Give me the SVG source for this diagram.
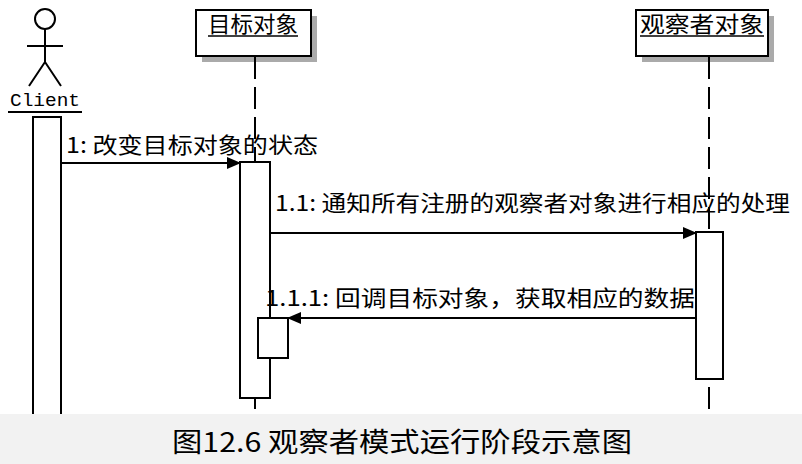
<svg xmlns="http://www.w3.org/2000/svg" width="802" height="464" viewBox="0 0 802 464">
<style>
.ln{stroke:#000;stroke-width:2;fill:none}
.box{fill:#fff;stroke:#000;stroke-width:2}
.sh{fill:#aaa}
.life{stroke:#000;stroke-width:2;stroke-dasharray:22,8}
.t{font-family:"Noto Sans CJK SC",sans-serif;font-size:22px;fill:#000}
.m{font-family:"Liberation Mono","Noto Sans CJK SC",monospace;font-size:19px}
</style>
<defs><marker id="a" markerWidth="14" markerHeight="12" refX="13" refY="6" orient="auto" markerUnits="userSpaceOnUse"><path d="M0,0L14,6L0,12z" fill="#000"/></marker></defs>
<rect width="802" height="464" fill="#fff"/>
<g id="client">
<circle cx="45" cy="19" r="10" class="ln"/>
<path d="M45 29V62M27 46H63M45 62L29 86M45 62L61 86" class="ln"/>
<text x="10" y="106" textLength="70" lengthAdjust="spacingAndGlyphs" class="m">Client</text>
<path d="M8 112H82" class="ln"/>
<rect x="33" y="117" width="28" height="310" class="box"/>
</g>
<g id="target">
<rect x="202" y="16" width="115" height="46" class="sh"/>
<rect x="196" y="10" width="115" height="46" class="box"/>
<text x="208" y="32" textLength="90" lengthAdjust="spacingAndGlyphs" class="t">目标对象</text>
<path d="M208 36H298" stroke="#000" stroke-width="1.5"/>
<path d="M255 57V414" class="life"/>
<rect x="240" y="162" width="30" height="236" class="box"/>
<rect x="258" y="318" width="30" height="40" class="box"/>
</g>
<g id="observer">
<rect x="642" y="16" width="132" height="46" class="sh"/>
<rect x="636" y="10" width="132" height="46" class="box"/>
<text x="640" y="32" textLength="124" lengthAdjust="spacingAndGlyphs" class="t">观察者对象</text>
<path d="M640 36H764" stroke="#000" stroke-width="1.5"/>
<path d="M709 57V414" class="life"/>
<rect x="696" y="232" width="27" height="147" class="box"/>
</g>
<g id="connectors">
<path d="M61 163H240" class="ln" marker-end="url(#a)"/>
<text x="66" y="153" textLength="252" lengthAdjust="spacingAndGlyphs" class="t">1: 改变目标对象的状态</text>
<path d="M270 233H696" class="ln" marker-end="url(#a)"/>
<text x="275" y="211" textLength="515" lengthAdjust="spacingAndGlyphs" class="t">1.1: 通知所有注册的观察者对象进行相应的处理</text>
<path d="M696 318H288" class="ln" marker-end="url(#a)"/>
<text x="265" y="306" textLength="430" lengthAdjust="spacingAndGlyphs" class="t">1.1.1: 回调目标对象，获取相应的数据</text>
</g>
<rect x="0" y="414" width="802" height="50" fill="#f2f2f2"/>
<text x="172" y="452" textLength="460" lengthAdjust="spacingAndGlyphs" font-family="Noto Sans CJK SC, sans-serif" font-size="27">图12.6  观察者模式运行阶段示意图</text>
</svg>
